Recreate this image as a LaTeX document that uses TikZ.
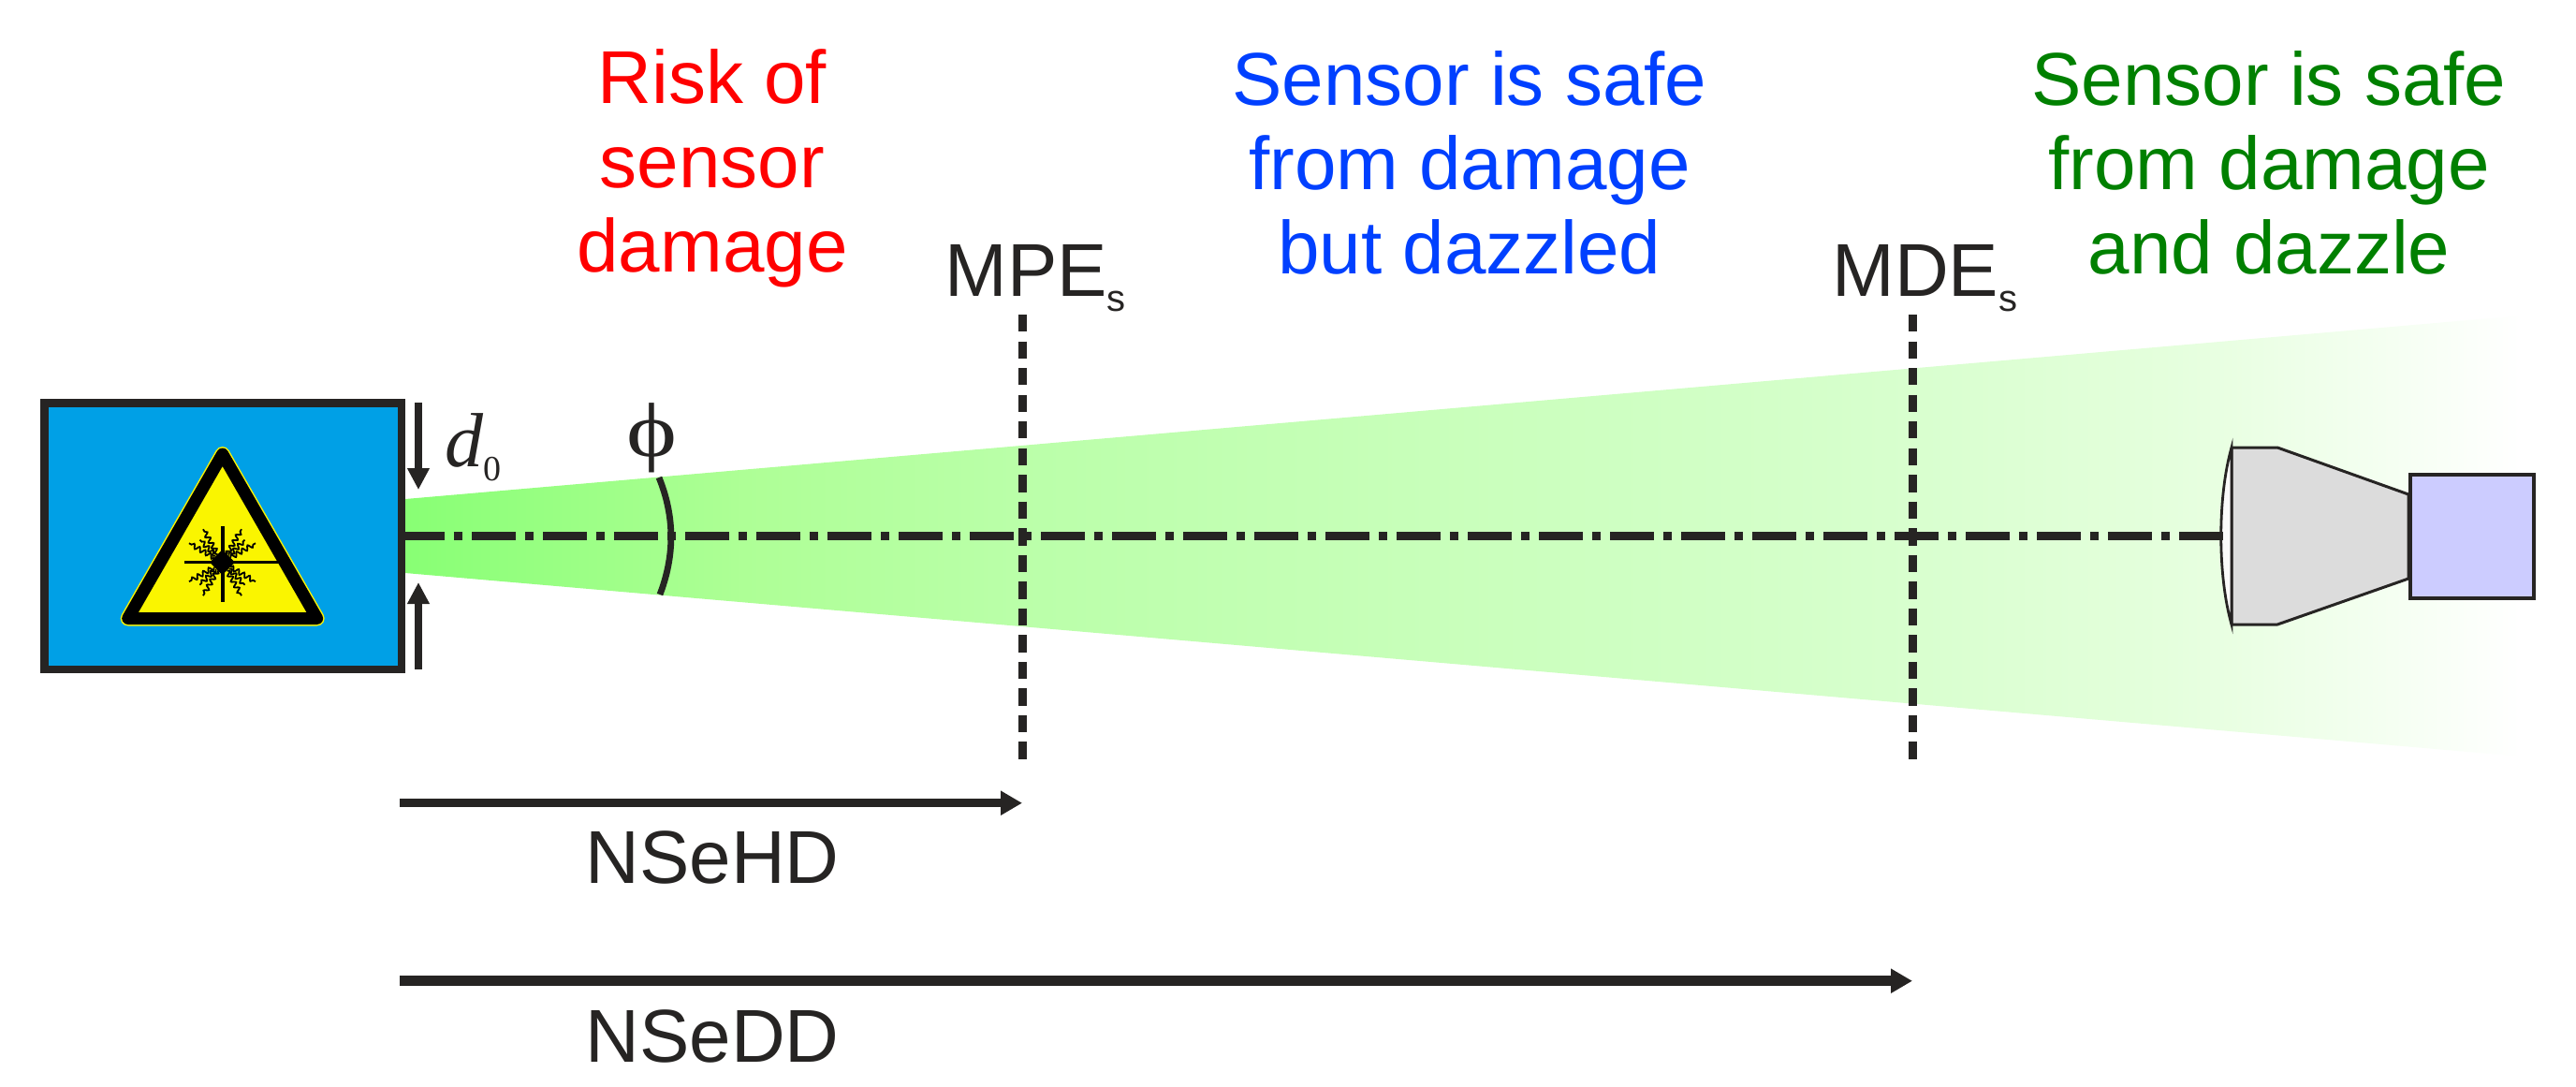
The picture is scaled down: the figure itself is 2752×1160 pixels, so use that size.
\documentclass[tikz,border=0pt]{standalone}
\usepackage{fontspec}
\setmainfont{Liberation Sans}
\newfontfamily\serifface{Liberation Serif}
\usetikzlibrary{arrows.meta,decorations.pathmorphing}

\definecolor{inkblack}{RGB}{38,36,35}
\definecolor{laserblue}{RGB}{0,160,230}
\definecolor{signyellow}{RGB}{250,245,0}
\definecolor{lensgrey}{RGB}{220,220,220}
\definecolor{sensorblue}{RGB}{204,204,255}
\definecolor{safeblue}{RGB}{0,64,255}
\definecolor{safegreen}{RGB}{0,128,0}
\definecolor{beamone}{RGB}{136,255,116}
\definecolor{beamtwo}{RGB}{174,255,150}
\definecolor{beamthree}{RGB}{187,255,170}
\definecolor{beamfour}{RGB}{215,255,205}
\definecolor{beamfive}{RGB}{228,255,220}
\definecolor{beamsix}{RGB}{242,255,238}

\pgfdeclarehorizontalshading{beamfade}{100bp}{
  color(0bp)=(beamone);
  color(25bp)=(beamone);
  color(33bp)=(beamtwo);
  color(40bp)=(beamthree);
  color(60bp)=(beamfour);
  color(66.5bp)=(beamfive);
  color(71bp)=(beamsix);
  color(75bp)=(white);
  color(100bp)=(white)}

\tikzset{every picture/.style={line width=0.75pt},
  bigtext/.style={font=\fontsize{20}{22.5}\selectfont,align=center,inner sep=0pt},
  limitline/.style={color=inkblack,line width=2.25pt,dash pattern=on 4.6pt off 2.53pt},
  beamaxis/.style={color=inkblack,line width=2.25pt,dash pattern=on 11.75pt off 2.4pt on 2.4pt off 2.45pt,dash phase=1.25pt},
  rangearrow/.style={color=inkblack,-{Triangle[length=5.75pt,width=6.2pt]}},
  gaparrow/.style={color=inkblack,line width=2.2pt,-{Triangle[length=5.75pt,width=5.6pt]}},
  sparkray/.style={line width=0.45pt,decorate,decoration={snake,amplitude=0.6pt,segment length=1.7pt}}}

\begin{document}
\begin{tikzpicture}[x=0.25pt,y=0.25pt,yscale=-1,xscale=1]
\useasboundingbox (0,0) rectangle (2752,1160);

%Beam
\path [shading=beamfade] (433,533) -- (2694,337) -- (2694,808) -- (433,612) -- cycle ;

%Laser housing
\node (laser) [draw=inkblack,fill=laserblue,line width=2.1pt,minimum width=95.4pt,minimum height=71.1pt,inner sep=0pt] at (238.25,572.75) {};

%Warning sign
\draw [color=signyellow,fill=signyellow,line width=4pt,line join=round] (136.7,660.5) -- (237.7,485) -- (338.7,660.5) -- cycle ;
\draw [color=black,line width=3.25pt,line join=round] (136.7,660.5) -- (237.7,485) -- (338.7,660.5) -- cycle ;
\coordinate (spark) at (237.5,600.7);
\draw [line width=0.7pt] (197,600.7) -- (298,600.7) ;
\draw [line width=1pt] (237.5,562) -- (237.5,643) ;
\fill (237.5,587) -- (251,600.7) -- (237.5,614) -- (224,600.7) -- cycle ;
%Sparks
\draw [sparkray] (spark) ++(30:10) -- ++(30:31) ;
\draw [sparkray] (spark) ++(45:10) -- ++(45:24) ;
\draw [sparkray] (spark) ++(60:10) -- ++(60:31) ;
\draw [sparkray] (spark) ++(120:10) -- ++(120:31) ;
\draw [sparkray] (spark) ++(135:10) -- ++(135:24) ;
\draw [sparkray] (spark) ++(150:10) -- ++(150:31) ;
\draw [sparkray] (spark) ++(210:10) -- ++(210:31) ;
\draw [sparkray] (spark) ++(225:10) -- ++(225:24) ;
\draw [sparkray] (spark) ++(240:10) -- ++(240:31) ;
\draw [sparkray] (spark) ++(300:10) -- ++(300:31) ;
\draw [sparkray] (spark) ++(315:10) -- ++(315:24) ;
\draw [sparkray] (spark) ++(330:10) -- ++(330:31) ;

%Sensor
\node (sensor) [draw=inkblack,fill=sensorblue,line width=0.9pt,minimum width=33.1pt,minimum height=33.1pt,inner sep=0pt] at (2641,573) {};
\draw [color=inkblack,fill=lensgrey,line width=0.75pt,line join=round] (2384,478) -- (2433,478) -- (sensor.west |- 0,528) -- (sensor.west |- 0,618) -- (2433,667) -- (2384,667) -- cycle ;
\draw [color=inkblack,fill=white!85!lensgrey,line width=0.7pt] (2384,478) .. controls (2369,530) and (2369,615) .. (2384,667) -- cycle ;
\coordinate (lens) at (2375,572.5);

%Beam axis
\draw [beamaxis] (laser.east |- 0,572.5) -- (lens) ;

%Divergence
\draw [color=inkblack,line width=1.7pt] (704,510) .. controls (721,552) and (721,593) .. (705,635) ;

%Aperture arrows
\coordinate (gaptop) at (447,430);
\coordinate (gaptip) at (447,523);
\coordinate (gapbot) at (447,715);
\coordinate (gapend) at (447,622);
\draw [gaparrow] (gaptop) -- (gaptip) ;
\draw [gaparrow] (gapbot) -- (gapend) ;

%Limits
\coordinate (mpetop) at (1092,336);
\coordinate (mpefoot) at (1092,812);
\coordinate (mdetop) at (2043,336);
\coordinate (mdefoot) at (2043,812);
\draw [limitline] (mpetop) -- (mpefoot) ;
\draw [limitline] (mdetop) -- (mdefoot) ;

%Ranges
\coordinate (hdstart) at (427,857.7);
\coordinate (hdend) at (1092,857.7);
\coordinate (ddstart) at (427,1047.7);
\coordinate (ddend) at (2043,1047.7);
\draw [rangearrow,line width=2.2pt] (hdstart) -- (hdend) ;
\draw [rangearrow,line width=2.75pt] (ddstart) -- (ddend) ;

% Text Node
\node (risk) [bigtext,color=red] at (761,180) {Risk of\\sensor\\damage};
% Text Node
\node (dazzled) [bigtext,color=safeblue] at (1570,174) {Sensor is safe\\from damage\\but dazzled};
% Text Node
\node (clear) [bigtext,color=safegreen] at (2424,174) {Sensor is safe\\from damage\\and dazzle};
% Text Node
\node (mpe) [anchor=base west,inner sep=0pt,color=inkblack,font=\fontsize{20}{24}\selectfont] at (1008,316) {MPE\raisebox{-4.2pt}{\fontsize{10}{12}\selectfont s}};
% Text Node
\node (mde) [anchor=base west,inner sep=0pt,color=inkblack,font=\fontsize{20}{24}\selectfont] at (1956,316) {MDE\raisebox{-4.2pt}{\fontsize{10}{12}\selectfont s}};
% Text Node
\node (nsehd) [anchor=base west,inner sep=0pt,color=inkblack,font=\fontsize{20}{24}\selectfont] at (624,943) {NSeHD};
% Text Node
\node (nsedd) [anchor=base west,inner sep=0pt,color=inkblack,font=\fontsize{20}{24}\selectfont] at (624,1134) {NSeDD};
% Text Node
\node (dzero) [anchor=base west,inner sep=0pt,color=inkblack,font=\fontsize{20.5}{24}\selectfont\serifface] at (474,498) {\itshape d\upshape\raisebox{-3.75pt}{\fontsize{9.5}{11}\selectfont 0}};
% Text Node
\node (phi) [anchor=base,inner sep=0pt,color=inkblack,font=\fontsize{20.5}{24}\selectfont\serifface] at (696,487) {\scalebox{1.25}[1]{ϕ}};

\end{tikzpicture}
\end{document}
